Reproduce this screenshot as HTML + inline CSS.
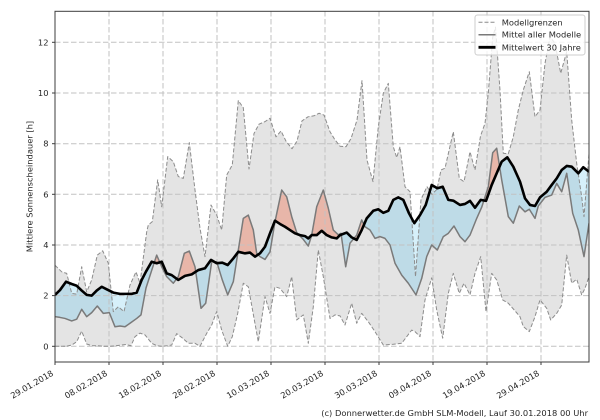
<!DOCTYPE html>
<html>
<head>
<meta charset="utf-8">
<style>
  html,body{margin:0;padding:0;background:#fff;width:600px;height:420px;overflow:hidden;}
  svg{display:block;overflow:hidden;}
  text{font-family:"DejaVu Sans","Liberation Sans",sans-serif;font-size:8.33px;fill:#262626;}
</style>
</head>
<body>
<svg width="600" height="420" viewBox="0 0 600 420" xmlns="http://www.w3.org/2000/svg">
<rect x="0" y="0" width="600" height="420" fill="#ffffff"/>
<defs>
  <clipPath id="ax"><rect x="55" y="11.3" width="534" height="350.7"/></clipPath>
  <clipPath id="above" clipPathUnits="userSpaceOnUse">
    <polygon points="55,2.03 60,2.22 66,2.55 71.7,2.46 76.7,2.39 81.7,2.2 86.7,2.03 91.7,2.0 96.7,2.2 101.7,2.35 106.7,2.25 113.3,2.12 120,2.07 126.7,2.07 131.7,2.07 136.7,2.12 141.7,2.62 146,2.95 151.7,3.34 156.7,3.28 161.7,3.34 166.7,2.88 171.7,2.81 178.3,2.62 185,2.78 191.7,2.84 198.3,3.01 205,3.08 211,3.41 216.7,3.28 222.3,3.3 227.7,3.21 233.3,3.47 238.3,3.73 245,3.67 250,3.7 255,3.54 260,3.67 265,3.93 270,4.46 275,4.96 280,4.83 285,4.72 290,4.59 295,4.46 300,4.39 305,4.35 308.3,4.26 311.7,4.39 316.7,4.39 321.7,4.56 326.7,4.39 331.7,4.3 336.7,4.26 340,4.39 346.7,4.49 351.7,4.3 356.7,4.2 361.7,4.59 366.7,5.05 373.3,5.35 378.3,5.41 383.3,5.27 388.3,5.35 393.3,5.78 398.3,5.88 403.3,5.78 409,5.25 414.3,4.86 420,5.18 425.7,5.58 431.7,6.37 437.3,6.24 442.7,6.3 448.3,5.78 453.3,5.75 460,5.58 465,5.62 470,5.74 475,5.47 480.7,5.78 486,5.74 491.7,6.37 496.7,6.83 501.7,7.29 507.3,7.46 513.3,7.09 520,6.5 525,5.84 530,5.58 535,5.54 540,5.88 546.7,6.1 551.7,6.37 556.7,6.63 561.7,6.96 566.7,7.12 571.7,7.09 578.3,6.83 583.3,7.07 589,6.89 590,6.89 590,13.25 54,13.25 54,2.03"/>
  </clipPath>
  <clipPath id="below" clipPathUnits="userSpaceOnUse">
    <polygon points="55,2.03 60,2.22 66,2.55 71.7,2.46 76.7,2.39 81.7,2.2 86.7,2.03 91.7,2.0 96.7,2.2 101.7,2.35 106.7,2.25 113.3,2.12 120,2.07 126.7,2.07 131.7,2.07 136.7,2.12 141.7,2.62 146,2.95 151.7,3.34 156.7,3.28 161.7,3.34 166.7,2.88 171.7,2.81 178.3,2.62 185,2.78 191.7,2.84 198.3,3.01 205,3.08 211,3.41 216.7,3.28 222.3,3.3 227.7,3.21 233.3,3.47 238.3,3.73 245,3.67 250,3.7 255,3.54 260,3.67 265,3.93 270,4.46 275,4.96 280,4.83 285,4.72 290,4.59 295,4.46 300,4.39 305,4.35 308.3,4.26 311.7,4.39 316.7,4.39 321.7,4.56 326.7,4.39 331.7,4.3 336.7,4.26 340,4.39 346.7,4.49 351.7,4.3 356.7,4.2 361.7,4.59 366.7,5.05 373.3,5.35 378.3,5.41 383.3,5.27 388.3,5.35 393.3,5.78 398.3,5.88 403.3,5.78 409,5.25 414.3,4.86 420,5.18 425.7,5.58 431.7,6.37 437.3,6.24 442.7,6.3 448.3,5.78 453.3,5.75 460,5.58 465,5.62 470,5.74 475,5.47 480.7,5.78 486,5.74 491.7,6.37 496.7,6.83 501.7,7.29 507.3,7.46 513.3,7.09 520,6.5 525,5.84 530,5.58 535,5.54 540,5.88 546.7,6.1 551.7,6.37 556.7,6.63 561.7,6.96 566.7,7.12 571.7,7.09 578.3,6.83 583.3,7.07 589,6.89 590,6.89 590,-0.63 54,-0.63 54,2.03"/>
  </clipPath>
</defs>

<g clip-path="url(#ax)">
  <g transform="matrix(1 0 0 -25.33 0 346.3)">
    <polygon fill="#e4e4e4" points="55,3.2 61.7,2.94 66.7,2.88 71.7,2.09 76.7,2.06 81.7,3.14 86.7,2.15 91.7,2.62 97.3,3.6 102.7,3.77 108.3,3.28 113.3,1.37 118.3,1.56 124,1.37 130,2.42 136,2.94 140,2.49 146.7,4.52 148.3,4.79 152.3,4.92 157.7,6.57 161.7,5.51 167.7,7.49 173.3,7.29 178.3,6.7 183.3,6.63 189.3,8.04 195,6.17 200,4.66 205,3.54 211,5.58 216.7,5.18 221.7,4.59 226.7,6.76 232.3,7.16 238.3,9.7 243.3,9.42 249,7.0 254,8.4 259,8.77 265,8.87 270,9.0 276,8.27 281,8.5 286,8.1 292,7.8 297,8.1 302,8.9 308,9.06 314,9.1 319,9.2 324,9.13 330,8.47 335,8.15 340,7.9 346,7.88 351,8.2 357,8.93 362,10.49 367,7.35 373,6.5 378.3,8.67 383.3,9.99 388.3,10.38 393.3,7.88 396.7,7.45 400,7.88 405,6.3 410,6.1 415.5,2.75 421,5.8 427,6.3 432,6.0 437,6.2 441,6.96 445,7.03 453.3,8.47 459.3,6.63 464,6.5 470,7.68 475,6.96 480.5,8.3 485,8.8 488.3,10.0 492.7,12.2 495.5,12.6 500,10.1 503.3,7.62 508.3,7.6 513.3,8.27 518.3,9.33 523.3,10.12 529.3,10.84 535,9.06 540,9.33 545,11.17 550,12.22 555,11.96 560.7,10.78 566.7,11.63 571.7,8.93 576.7,7.22 581.7,5.9 584,5.12 589,7.6 589,2.75 585,2.29 581.7,2.03 576.7,2.65 571.7,2.49 566.7,3.6 561.7,1.63 556.7,1.3 550.7,1.04 546.7,1.5 540,1.83 535,1.17 529.3,0.58 523.3,0.78 520,1.17 515,1.4 508.3,1.7 502.7,1.83 496.7,2.62 491.7,2.88 486,1.37 480.7,3.54 475,2.88 470,2.03 464,2.49 459.3,2.09 453.3,2.88 448.3,2.09 442.7,0.32 436.7,1.43 431.7,2.7 425,1.83 420,0.38 415,0.58 411.7,0.64 406.7,0.38 401.7,0.12 393.3,0.08 383.3,0.05 375,0.58 368.3,0.97 361.7,1.3 356.7,0.91 351.7,1.7 345,0.84 340,1.2 335,1.24 330,1.1 323.3,2.75 318.3,3.8 313.3,1.56 308.3,0.12 303.3,1.24 296.7,1.04 291.7,2.75 286.7,1.96 280,2.29 275,2.35 270,1.3 265,1.96 258.3,0.18 248.3,2.35 243.3,2.49 237.7,1.3 232.3,0.38 227.7,0 221.7,0.64 216.7,1.37 211.7,0.84 206.7,0.51 200,0 195,0.12 188.3,0.12 181.7,0.35 176.7,0.5 171.7,0.05 167,0.02 161.7,0 157,0.02 151.7,0.12 145,0.45 140,0.52 135,0.38 131,0.02 126,0.07 121,0.05 116,0.02 110,0 104,0 98,0.02 92,0.02 86.7,0.09 81.7,0.6 76.7,0.18 71.7,0.05 66,0 60,0 55,0"/>
    <polygon fill="#bedbe7" clip-path="url(#below)" points="55,1.17 60,1.14 65,1.1 71.7,1.0 76.7,1.07 81.7,1.46 86.7,1.17 91.7,1.33 97.3,1.59 103.3,1.3 109.3,1.33 115,0.77 120,0.8 125,0.77 130,0.91 136.7,1.1 141,1.24 146,2.3 151.7,3.0 156.7,3.6 161.7,3.14 166.7,2.75 173.3,2.49 178.3,2.75 184.3,3.67 189.3,3.76 195,3.14 201,1.5 205.7,1.7 211.7,3.34 216.7,3.34 222.3,2.62 227.7,2.03 233.3,2.55 243.3,5.05 248.3,5.18 253.3,4.59 256.7,3.67 260,3.54 265,3.43 270,3.73 275,4.92 281.7,6.17 286.7,5.9 291.7,5.12 296.7,4.49 303.3,4.22 308.3,3.96 311.7,4.39 316.7,5.51 323.3,6.17 328.3,5.45 333.3,4.59 338.3,4.4 341,4.46 345.7,3.14 350,4.07 356.7,4.39 361.7,4.99 365,4.72 370,4.59 375,4.26 380,4.33 385,4.26 390,4.0 395,3.28 401.7,2.81 408.3,2.49 416,2.03 421.7,2.68 426.7,3.54 431.7,4.0 437.3,3.8 443.3,4.33 448.3,4.46 454,4.75 460,4.33 465,4.13 470,4.39 476.7,5.05 481.7,5.49 488.3,6.3 492.7,7.64 496.7,7.82 501.7,6.57 508.3,5.12 513.3,4.86 519.3,5.54 525,5.31 529.3,5.41 535,5.05 538.3,5.54 545,5.88 551.7,5.97 556.7,6.43 561.7,6.1 566.7,6.83 572.7,5.25 578.3,4.59 584,3.54 589,4.86 590,4.86 590,13.25 54,13.25 54,1.17"/>
    <polygon fill="#d6f0fa" clip-path="url(#below)" points="55,3.2 61.7,2.94 66.7,2.88 71.7,2.09 76.7,2.06 81.7,3.14 86.7,2.15 91.7,2.62 97.3,3.6 102.7,3.77 108.3,3.28 113.3,1.37 118.3,1.56 124,1.37 130,2.42 136,2.94 140,2.49 146.7,4.52 148.3,4.79 152.3,4.92 157.7,6.57 161.7,5.51 167.7,7.49 173.3,7.29 178.3,6.7 183.3,6.63 189.3,8.04 195,6.17 200,4.66 205,3.54 211,5.58 216.7,5.18 221.7,4.59 226.7,6.76 232.3,7.16 238.3,9.7 243.3,9.42 249,7.0 254,8.4 259,8.77 265,8.87 270,9.0 276,8.27 281,8.5 286,8.1 292,7.8 297,8.1 302,8.9 308,9.06 314,9.1 319,9.2 324,9.13 330,8.47 335,8.15 340,7.9 346,7.88 351,8.2 357,8.93 362,10.49 367,7.35 373,6.5 378.3,8.67 383.3,9.99 388.3,10.38 393.3,7.88 396.7,7.45 400,7.88 405,6.3 410,6.1 415.5,2.75 421,5.8 427,6.3 432,6.0 437,6.2 441,6.96 445,7.03 453.3,8.47 459.3,6.63 464,6.5 470,7.68 475,6.96 480.5,8.3 485,8.8 488.3,10.0 492.7,12.2 495.5,12.6 500,10.1 503.3,7.62 508.3,7.6 513.3,8.27 518.3,9.33 523.3,10.12 529.3,10.84 535,9.06 540,9.33 545,11.17 550,12.22 555,11.96 560.7,10.78 566.7,11.63 571.7,8.93 576.7,7.22 581.7,5.9 584,5.12 589,7.6 590,7.6 590,13.25 54,13.25 54,3.2"/>
    <polygon fill="#e8b6a9" clip-path="url(#above)" points="55,1.17 60,1.14 65,1.1 71.7,1.0 76.7,1.07 81.7,1.46 86.7,1.17 91.7,1.33 97.3,1.59 103.3,1.3 109.3,1.33 115,0.77 120,0.8 125,0.77 130,0.91 136.7,1.1 141,1.24 146,2.3 151.7,3.0 156.7,3.6 161.7,3.14 166.7,2.75 173.3,2.49 178.3,2.75 184.3,3.67 189.3,3.76 195,3.14 201,1.5 205.7,1.7 211.7,3.34 216.7,3.34 222.3,2.62 227.7,2.03 233.3,2.55 243.3,5.05 248.3,5.18 253.3,4.59 256.7,3.67 260,3.54 265,3.43 270,3.73 275,4.92 281.7,6.17 286.7,5.9 291.7,5.12 296.7,4.49 303.3,4.22 308.3,3.96 311.7,4.39 316.7,5.51 323.3,6.17 328.3,5.45 333.3,4.59 338.3,4.4 341,4.46 345.7,3.14 350,4.07 356.7,4.39 361.7,4.99 365,4.72 370,4.59 375,4.26 380,4.33 385,4.26 390,4.0 395,3.28 401.7,2.81 408.3,2.49 416,2.03 421.7,2.68 426.7,3.54 431.7,4.0 437.3,3.8 443.3,4.33 448.3,4.46 454,4.75 460,4.33 465,4.13 470,4.39 476.7,5.05 481.7,5.49 488.3,6.3 492.7,7.64 496.7,7.82 501.7,6.57 508.3,5.12 513.3,4.86 519.3,5.54 525,5.31 529.3,5.41 535,5.05 538.3,5.54 545,5.88 551.7,5.97 556.7,6.43 561.7,6.1 566.7,6.83 572.7,5.25 578.3,4.59 584,3.54 589,4.86 590,4.86 590,-0.63 54,-0.63 54,1.17"/>
  </g>

  <g stroke="#c2c2c2" stroke-width="1" stroke-dasharray="5.5,2.5" fill="none">
    <line x1="109" y1="11" x2="109" y2="362"/>
    <line x1="163" y1="11" x2="163" y2="362"/>
    <line x1="217" y1="11" x2="217" y2="362"/>
    <line x1="271" y1="11" x2="271" y2="362"/>
    <line x1="325" y1="11" x2="325" y2="362"/>
    <line x1="379" y1="11" x2="379" y2="362"/>
    <line x1="433" y1="11" x2="433" y2="362"/>
    <line x1="487" y1="11" x2="487" y2="362"/>
    <line x1="541" y1="11" x2="541" y2="362"/>
    <line x1="55" y1="346.3" x2="589" y2="346.3"/>
    <line x1="55" y1="295.6" x2="589" y2="295.6"/>
    <line x1="55" y1="245" x2="589" y2="245"/>
    <line x1="55" y1="194.3" x2="589" y2="194.3"/>
    <line x1="55" y1="143.7" x2="589" y2="143.7"/>
    <line x1="55" y1="93" x2="589" y2="93"/>
    <line x1="55" y1="42.3" x2="589" y2="42.3"/>
  </g>

  <g transform="matrix(1 0 0 -25.33 0 346.3)" fill="none" stroke-linejoin="round">
    <polyline vector-effect="non-scaling-stroke" stroke="#8c8c8c" stroke-width="1" stroke-dasharray="4,2" points="55,3.2 61.7,2.94 66.7,2.88 71.7,2.09 76.7,2.06 81.7,3.14 86.7,2.15 91.7,2.62 97.3,3.6 102.7,3.77 108.3,3.28 113.3,1.37 118.3,1.56 124,1.37 130,2.42 136,2.94 140,2.49 146.7,4.52 148.3,4.79 152.3,4.92 157.7,6.57 161.7,5.51 167.7,7.49 173.3,7.29 178.3,6.7 183.3,6.63 189.3,8.04 195,6.17 200,4.66 205,3.54 211,5.58 216.7,5.18 221.7,4.59 226.7,6.76 232.3,7.16 238.3,9.7 243.3,9.42 249,7.0 254,8.4 259,8.77 265,8.87 270,9.0 276,8.27 281,8.5 286,8.1 292,7.8 297,8.1 302,8.9 308,9.06 314,9.1 319,9.2 324,9.13 330,8.47 335,8.15 340,7.9 346,7.88 351,8.2 357,8.93 362,10.49 367,7.35 373,6.5 378.3,8.67 383.3,9.99 388.3,10.38 393.3,7.88 396.7,7.45 400,7.88 405,6.3 410,6.1 415.5,2.75 421,5.8 427,6.3 432,6.0 437,6.2 441,6.96 445,7.03 453.3,8.47 459.3,6.63 464,6.5 470,7.68 475,6.96 480.5,8.3 485,8.8 488.3,10.0 492.7,12.2 495.5,12.6 500,10.1 503.3,7.62 508.3,7.6 513.3,8.27 518.3,9.33 523.3,10.12 529.3,10.84 535,9.06 540,9.33 545,11.17 550,12.22 555,11.96 560.7,10.78 566.7,11.63 571.7,8.93 576.7,7.22 581.7,5.9 584,5.12 589,7.6"/>
    <polyline vector-effect="non-scaling-stroke" stroke="#8c8c8c" stroke-width="1" stroke-dasharray="4,2" points="55,0 60,0 66,0 71.7,0.05 76.7,0.18 81.7,0.6 86.7,0.09 92,0.02 98,0.02 104,0 110,0 116,0.02 121,0.05 126,0.07 131,0.02 135,0.38 140,0.52 145,0.45 151.7,0.12 157,0.02 161.7,0 167,0.02 171.7,0.05 176.7,0.5 181.7,0.35 188.3,0.12 195,0.12 200,0 206.7,0.51 211.7,0.84 216.7,1.37 221.7,0.64 227.7,0 232.3,0.38 237.7,1.3 243.3,2.49 248.3,2.35 258.3,0.18 265,1.96 270,1.3 275,2.35 280,2.29 286.7,1.96 291.7,2.75 296.7,1.04 303.3,1.24 308.3,0.12 313.3,1.56 318.3,3.8 323.3,2.75 330,1.1 335,1.24 340,1.2 345,0.84 351.7,1.7 356.7,0.91 361.7,1.3 368.3,0.97 375,0.58 383.3,0.05 393.3,0.08 401.7,0.12 406.7,0.38 411.7,0.64 415,0.58 420,0.38 425,1.83 431.7,2.7 436.7,1.43 442.7,0.32 448.3,2.09 453.3,2.88 459.3,2.09 464,2.49 470,2.03 475,2.88 480.7,3.54 486,1.37 491.7,2.88 496.7,2.62 502.7,1.83 508.3,1.7 515,1.4 520,1.17 523.3,0.78 529.3,0.58 535,1.17 540,1.83 546.7,1.5 550.7,1.04 556.7,1.3 561.7,1.63 566.7,3.6 571.7,2.49 576.7,2.65 581.7,2.03 585,2.29 589,2.75"/>
    <polyline vector-effect="non-scaling-stroke" stroke="#7a7a7a" stroke-width="1.5" points="55,1.17 60,1.14 65,1.1 71.7,1.0 76.7,1.07 81.7,1.46 86.7,1.17 91.7,1.33 97.3,1.59 103.3,1.3 109.3,1.33 115,0.77 120,0.8 125,0.77 130,0.91 136.7,1.1 141,1.24 146,2.3 151.7,3.0 156.7,3.6 161.7,3.14 166.7,2.75 173.3,2.49 178.3,2.75 184.3,3.67 189.3,3.76 195,3.14 201,1.5 205.7,1.7 211.7,3.34 216.7,3.34 222.3,2.62 227.7,2.03 233.3,2.55 243.3,5.05 248.3,5.18 253.3,4.59 256.7,3.67 260,3.54 265,3.43 270,3.73 275,4.92 281.7,6.17 286.7,5.9 291.7,5.12 296.7,4.49 303.3,4.22 308.3,3.96 311.7,4.39 316.7,5.51 323.3,6.17 328.3,5.45 333.3,4.59 338.3,4.4 341,4.46 345.7,3.14 350,4.07 356.7,4.39 361.7,4.99 365,4.72 370,4.59 375,4.26 380,4.33 385,4.26 390,4.0 395,3.28 401.7,2.81 408.3,2.49 416,2.03 421.7,2.68 426.7,3.54 431.7,4.0 437.3,3.8 443.3,4.33 448.3,4.46 454,4.75 460,4.33 465,4.13 470,4.39 476.7,5.05 481.7,5.49 488.3,6.3 492.7,7.64 496.7,7.82 501.7,6.57 508.3,5.12 513.3,4.86 519.3,5.54 525,5.31 529.3,5.41 535,5.05 538.3,5.54 545,5.88 551.7,5.97 556.7,6.43 561.7,6.1 566.7,6.83 572.7,5.25 578.3,4.59 584,3.54 589,4.86"/>
    <polyline vector-effect="non-scaling-stroke" stroke="#000000" stroke-width="2.6" points="55,2.03 60,2.22 66,2.55 71.7,2.46 76.7,2.39 81.7,2.2 86.7,2.03 91.7,2.0 96.7,2.2 101.7,2.35 106.7,2.25 113.3,2.12 120,2.07 126.7,2.07 131.7,2.07 136.7,2.12 141.7,2.62 146,2.95 151.7,3.34 156.7,3.28 161.7,3.34 166.7,2.88 171.7,2.81 178.3,2.62 185,2.78 191.7,2.84 198.3,3.01 205,3.08 211,3.41 216.7,3.28 222.3,3.3 227.7,3.21 233.3,3.47 238.3,3.73 245,3.67 250,3.7 255,3.54 260,3.67 265,3.93 270,4.46 275,4.96 280,4.83 285,4.72 290,4.59 295,4.46 300,4.39 305,4.35 308.3,4.26 311.7,4.39 316.7,4.39 321.7,4.56 326.7,4.39 331.7,4.3 336.7,4.26 340,4.39 346.7,4.49 351.7,4.3 356.7,4.2 361.7,4.59 366.7,5.05 373.3,5.35 378.3,5.41 383.3,5.27 388.3,5.35 393.3,5.78 398.3,5.88 403.3,5.78 409,5.25 414.3,4.86 420,5.18 425.7,5.58 431.7,6.37 437.3,6.24 442.7,6.3 448.3,5.78 453.3,5.75 460,5.58 465,5.62 470,5.74 475,5.47 480.7,5.78 486,5.74 491.7,6.37 496.7,6.83 501.7,7.29 507.3,7.46 513.3,7.09 520,6.5 525,5.84 530,5.58 535,5.54 540,5.88 546.7,6.1 551.7,6.37 556.7,6.63 561.7,6.96 566.7,7.12 571.7,7.09 578.3,6.83 583.3,7.07 589,6.89"/>
  </g>
</g>

<rect x="55" y="11.3" width="534" height="350.7" fill="none" stroke="#3c3c3c" stroke-width="1"/>

<g stroke="#3c3c3c" stroke-width="1">
  <line x1="52" y1="346.3" x2="55" y2="346.3"/>
  <line x1="52" y1="295.6" x2="55" y2="295.6"/>
  <line x1="52" y1="245" x2="55" y2="245"/>
  <line x1="52" y1="194.3" x2="55" y2="194.3"/>
  <line x1="52" y1="143.7" x2="55" y2="143.7"/>
  <line x1="52" y1="93" x2="55" y2="93"/>
  <line x1="52" y1="42.3" x2="55" y2="42.3"/>
  <line x1="55" y1="362" x2="55" y2="365"/>
  <line x1="109" y1="362" x2="109" y2="365"/>
  <line x1="163" y1="362" x2="163" y2="365"/>
  <line x1="217" y1="362" x2="217" y2="365"/>
  <line x1="271" y1="362" x2="271" y2="365"/>
  <line x1="325" y1="362" x2="325" y2="365"/>
  <line x1="379" y1="362" x2="379" y2="365"/>
  <line x1="433" y1="362" x2="433" y2="365"/>
  <line x1="487" y1="362" x2="487" y2="365"/>
  <line x1="541" y1="362" x2="541" y2="365"/>
</g>

<g text-anchor="end">
  <text x="48.5" y="349.3">0</text>
  <text x="48.5" y="298.6">2</text>
  <text x="48.5" y="248">4</text>
  <text x="48.5" y="197.3">6</text>
  <text x="48.5" y="146.7">8</text>
  <text x="48.5" y="96">10</text>
  <text x="48.5" y="45.3">12</text>
</g>

<g text-anchor="end">
  <text x="54" y="375" transform="rotate(-30 54 375)">29.01.2018</text>
  <text x="108" y="375" transform="rotate(-30 108 375)">08.02.2018</text>
  <text x="162" y="375" transform="rotate(-30 162 375)">18.02.2018</text>
  <text x="216" y="375" transform="rotate(-30 216 375)">28.02.2018</text>
  <text x="270" y="375" transform="rotate(-30 270 375)">10.03.2018</text>
  <text x="324" y="375" transform="rotate(-30 324 375)">20.03.2018</text>
  <text x="378" y="375" transform="rotate(-30 378 375)">30.03.2018</text>
  <text x="432" y="375" transform="rotate(-30 432 375)">09.04.2018</text>
  <text x="486" y="375" transform="rotate(-30 486 375)">19.04.2018</text>
  <text x="540" y="375" transform="rotate(-30 540 375)">29.04.2018</text>
</g>

<text transform="translate(32.5,186.5) rotate(-90)" text-anchor="middle">Mittlere Sonnenscheindauer [h]</text>

<rect x="475" y="15" width="110" height="40" rx="2.5" ry="2.5" fill="#ffffff" fill-opacity="0.8" stroke="#cccccc" stroke-width="1"/>
<line x1="478.5" y1="22.3" x2="495.5" y2="22.3" stroke="#8c8c8c" stroke-width="1" stroke-dasharray="4,2"/>
<line x1="478.5" y1="34.7" x2="495.5" y2="34.7" stroke="#7a7a7a" stroke-width="1.5"/>
<line x1="478.5" y1="47.3" x2="495.5" y2="47.3" stroke="#000000" stroke-width="2.8"/>
<text x="501.7" y="25.3">Modellgrenzen</text>
<text x="501.7" y="37.7">Mittel aller Modelle</text>
<text x="501.7" y="50.3">Mittelwert 30 Jahre</text>

<text x="588" y="416" text-anchor="end">(c) Donnerwetter.de GmbH SLM-Modell, Lauf 30.01.2018 00 Uhr</text>
</svg>
</body>
</html>
